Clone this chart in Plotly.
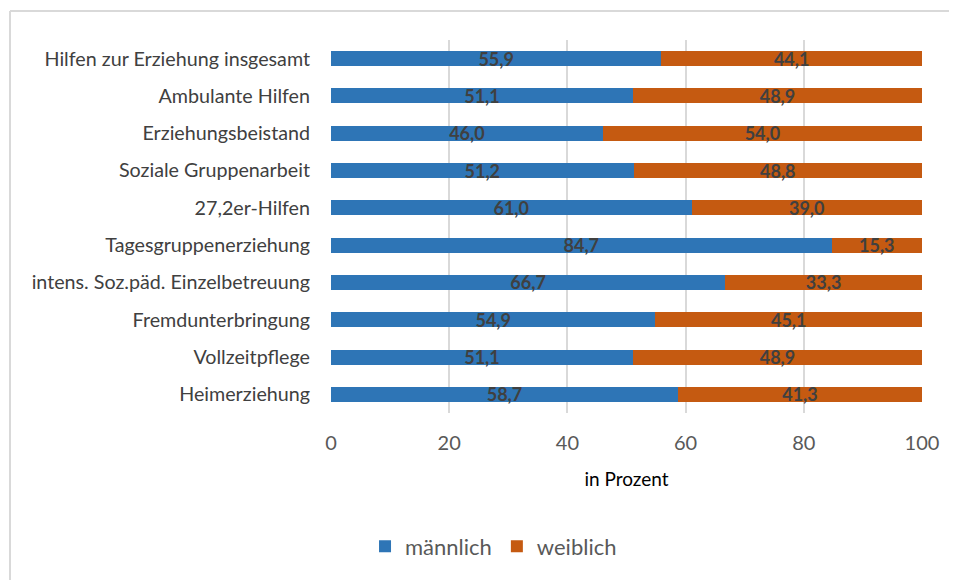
import plotly.graph_objects as go

# Kategorien (von oben nach unten)
kategorien = [
    "Hilfen zur Erziehung insgesamt",
    "Ambulante Hilfen",
    "Erziehungsbeistand",
    "Soziale Gruppenarbeit",
    "27,2er-Hilfen",
    "Tagesgruppenerziehung",
    "intens. Soz.päd. Einzelbetreuung",
    "Fremdunterbringung",
    "Vollzeitpflege",
    "Heimerziehung",
]
maennlich = [55.9, 51.1, 46.0, 51.2, 61.0, 84.7, 66.7, 54.9, 51.1, 58.7]
weiblich = [44.1, 48.9, 54.0, 48.8, 39.0, 15.3, 33.3, 45.1, 48.9, 41.3]
x_ticks = [0, 20, 40, 60, 80, 100]

FONT = "Lato"


def fmt(v):
    return f"{v:.1f}".replace(".", ",")


fig = go.Figure()
fig.add_trace(go.Bar(
    y=kategorien, x=maennlich, orientation="h", name="männlich",
    marker=dict(color="#2E75B6", line=dict(width=0)),
    text=[fmt(v) for v in maennlich], textposition="inside",
    insidetextanchor="middle",
    textfont=dict(family=FONT, size=18, color="#404040", weight="bold"),
))
fig.add_trace(go.Bar(
    y=kategorien, x=weiblich, orientation="h", name="weiblich",
    marker=dict(color="#C55A11", line=dict(width=0)),
    text=[fmt(v) for v in weiblich], textposition="inside",
    insidetextanchor="middle",
    textfont=dict(family=FONT, size=18, color="#404040", weight="bold"),
))

# chart frame: only the top and left edges are visible in the original
frame = dict(color="#D9D9D9", width=2)
x_left = -321 / 591
y_top = 1 + 29 / 374

# the page adds an 8px body margin, so the figure is kept 8px smaller
fig.update_layout(
    barmode="stack",
    bargap=0.6,
    width=949, height=572,
    margin=dict(l=323, r=35, t=32, b=158),
    paper_bgcolor="white", plot_bgcolor="white",
    font=dict(family=FONT, color="#595959"),
    uniformtext=dict(minsize=10, mode="show"),
    legend=dict(
        orientation="h", x=0.275, xanchor="center", y=-0.358, yanchor="middle",
        font=dict(size=22, color="#595959"), traceorder="normal",
        itemwidth=30,
    ),
    shapes=[
        dict(type="line", xref="paper", yref="paper", x0=x_left, x1=1.1,
             y0=y_top, y1=y_top, line=frame, layer="below"),
        dict(type="line", xref="paper", yref="paper", x0=x_left, x1=x_left,
             y0=y_top, y1=-0.5, line=frame, layer="below"),
    ],
)
fig.update_xaxes(
    range=[0, 100], tickvals=x_ticks, showgrid=True, gridcolor="#D9D9D9",
    gridwidth=1.5, zeroline=False, showline=False,
    tickfont=dict(size=20, color="#595959"), ticks="", ticklabelstandoff=16,
    title=dict(text="in Prozent", font=dict(size=19, color="#000000"), standoff=19),
)
fig.update_yaxes(
    autorange="reversed", showgrid=False, zeroline=False, showline=False,
    tickfont=dict(size=19.7, color="#404040"), ticks="", ticklabelstandoff=20,
)

fig.write_html("out.html")
